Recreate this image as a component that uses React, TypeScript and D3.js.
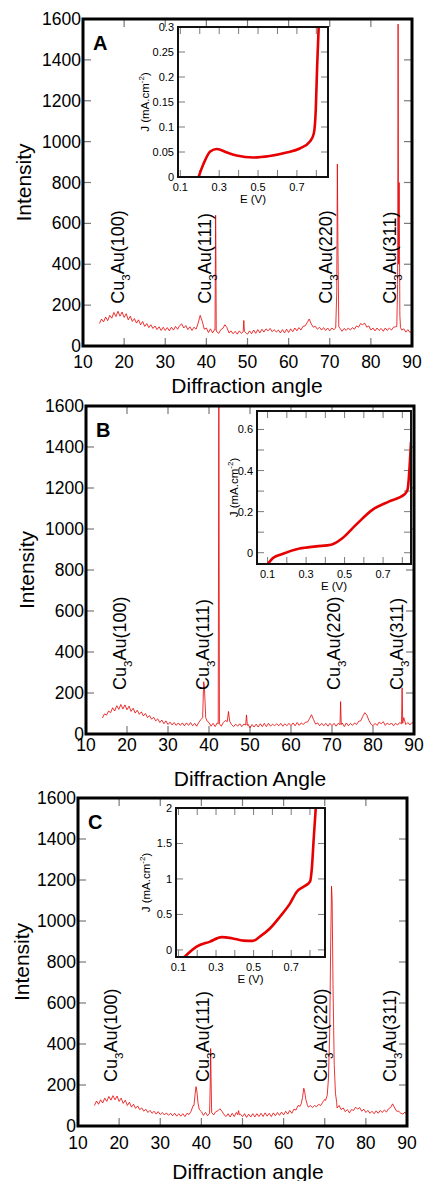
import * as d3 from 'd3';

// XRD scans: intensities every 0.5 degree from 14 to 90
const SCAN_START = 14;
const SCAN_STEP = 0.5;

const scanA = [
  110, 132, 118, 142, 124, 150, 136, 164, 144, 170,
  146, 166, 140, 158, 128, 146, 120, 134, 112, 128,
  104, 120, 96, 110, 90, 104, 86, 98, 80, 94,
  76, 92, 76, 90, 74, 92, 78, 96, 82, 100,
  108, 88, 100, 80, 94, 76, 92, 82, 112, 150,
  120, 82, 88, 66, 84, 64, 80, 70, 62, 80,
  86, 104, 90, 64, 74, 60, 72, 58, 74, 62,
  84, 66, 58, 74, 60, 78, 62, 80, 64, 82,
  68, 84, 74, 86, 70, 80, 68, 78, 64, 80,
  64, 82, 66, 84, 70, 88, 74, 90, 78, 96,
  98, 114, 132, 108, 92, 96, 82, 92, 78, 90,
  76, 88, 74, 88, 80, 84, 90, 86, 72, 86,
  76, 88, 78, 90, 82, 98, 92, 110, 104, 112,
  92, 98, 78, 88, 74, 88, 76, 86, 72, 88,
  76, 88, 78, 92, 94, 100, 96, 78, 84, 68,
  80, 66, 76,
];

const peaksA = [
  [[42.1, 78], [42.25, 640], [42.3, 520], [42.4, 80]],
  [[48.95, 70], [49.1, 125], [49.25, 72]],
  [[71.45, 88], [71.7, 260], [71.85, 890], [72.0, 480], [72.2, 95]],
  [[86.3, 95], [86.5, 300], [86.62, 1575], [86.75, 400], [86.88, 800], [87.05, 150], [87.2, 90]],
];

const scanB = [
  78, 98, 92, 112, 104, 128, 112, 138, 120, 144,
  122, 142, 118, 136, 110, 126, 102, 116, 96, 108,
  88, 100, 80, 90, 72, 82, 64, 74, 56, 68,
  50, 64, 46, 58, 44, 56, 42, 54, 42, 54,
  40, 54, 42, 56, 40, 52, 38, 56, 70, 90,
  95, 64, 56, 38, 52, 36, 54, 40, 38, 56,
  66, 94, 80, 46, 36, 48, 38, 50, 36, 48,
  62, 48, 30, 46, 34, 48, 34, 50, 36, 52,
  36, 52, 38, 48, 40, 50, 40, 52, 38, 50,
  40, 52, 40, 54, 40, 56, 42, 54, 46, 58,
  58, 74, 94, 70, 48, 54, 40, 52, 40, 52,
  38, 52, 40, 52, 38, 52, 44, 54, 36, 54,
  40, 52, 42, 54, 46, 62, 64, 86, 104, 92,
  66, 48, 40, 52, 42, 58, 50, 60, 42, 54,
  44, 54, 40, 52, 44, 56, 58, 80, 46, 56,
  44, 56, 48,
];

const peaksB = [
  [[38.45, 80], [38.7, 255], [38.85, 240], [39.2, 80]],
  [[42.25, 50], [42.4, 1700], [42.55, 50]],
  [[44.45, 60], [44.75, 110], [45.05, 62]],
  [[48.95, 44], [49.15, 93], [49.35, 42]],
  [[71.95, 46], [72.1, 158], [72.25, 46]],
  [[86.95, 50], [87.1, 225], [87.25, 52]],
];

const scanC = [
  100, 122, 106, 128, 112, 136, 120, 144, 126, 148,
  128, 146, 120, 136, 110, 126, 100, 116, 92, 106,
  86, 98, 80, 88, 72, 82, 66, 76, 62, 72,
  58, 70, 56, 66, 54, 64, 52, 62, 50, 62,
  48, 60, 48, 60, 46, 62, 56, 72, 100, 170,
  150, 90, 70, 52, 66, 50, 60, 62, 54, 70,
  74, 84, 72, 56, 46, 60, 44, 62, 46, 66,
  74, 58, 46, 60, 42, 58, 44, 60, 44, 60,
  46, 62, 46, 64, 48, 62, 46, 64, 50, 66,
  52, 68, 54, 72, 58, 76, 62, 82, 78, 100,
  96, 180, 160, 120, 92, 100, 90, 100, 94, 106,
  100, 116, 130, 200, 600, 400, 160, 104, 88, 100,
  80, 88, 70, 80, 64, 80, 76, 92, 82, 90,
  72, 82, 66, 76, 62, 72, 60, 74, 62, 76,
  66, 78, 68, 84, 90, 108, 88, 72, 72, 62,
  58, 68, 54,
];

const peaksC = [
  [[38.2, 100], [38.5, 160], [38.7, 192], [38.9, 170], [39.2, 110], [39.5, 80]],
  [[42.0, 62], [42.15, 200], [42.25, 378], [42.35, 250], [42.5, 66]],
  [[48.85, 55], [49.05, 75], [49.25, 55]],
  [[64.3, 110], [64.6, 140], [64.9, 184], [65.1, 170], [65.4, 130], [65.8, 100]],
  [[70.2, 125], [70.6, 150], [70.9, 230], [71.2, 450], [71.45, 900], [71.65, 1170], [71.8, 1100], [72.0, 700], [72.3, 300], [72.6, 160], [72.9, 115]],
];

const peakNames = ['(100)', '(111)', '(220)', '(311)'];
const labelAnglesA = [19.9, 41.2, 70.6, 86.2];
const labelAnglesB = [19.7, 40.1, 71.9, 87.4];
const labelAnglesC = [19.5, 41.9, 70.6, 87.4];
const labelBottom = [207, 215, 215];

const xTicks = d3.range(10, 91, 10);
const yTicks = d3.range(0, 1601, 200);

// J-E insets
const ivEA = [0.185, 0.22, 0.254, 0.288, 0.34, 0.39, 0.476, 0.56, 0.647, 0.715, 0.767, 0.787, 0.797, 0.804, 0.813];
const ivJA = [-0.01, 0.027, 0.051, 0.056, 0.049, 0.043, 0.039, 0.042, 0.049, 0.057, 0.071, 0.087, 0.134, 0.22, 0.31];
const ivEB = [0.1, 0.128, 0.18, 0.266, 0.352, 0.43, 0.49, 0.56, 0.646, 0.732, 0.81, 0.827, 0.845];
const ivJB = [-0.056, -0.026, -0.005, 0.02, 0.031, 0.039, 0.072, 0.137, 0.21, 0.25, 0.283, 0.307, 0.54];
const ivEC = [0.128, 0.197, 0.268, 0.33, 0.384, 0.446, 0.495, 0.535, 0.588, 0.641, 0.695, 0.73, 0.766, 0.8, 0.81, 0.82, 0.832];
const ivJC = [-0.11, 0.046, 0.117, 0.18, 0.165, 0.131, 0.127, 0.19, 0.305, 0.47, 0.66, 0.82, 0.89, 0.96, 1.15, 1.57, 2.05];

const FONT = "'Liberation Sans', Arial, sans-serif";
const RED = '#e60000';
const TICK = '#7a7a7a';

function mergeScan(base, peaks) {
  const ranges = peaks.map(p => [p[0][0], p[p.length - 1][0]]);
  const pts = [];
  base.forEach((v, i) => {
    const a = SCAN_START + i * SCAN_STEP;
    if (!ranges.some(([lo, hi]) => a >= lo && a <= hi)) pts.push([a, v]);
  });
  peaks.forEach(p => p.forEach(d => pts.push(d)));
  return pts.sort((p, q) => p[0] - q[0]);
}

const insets = [
  {
    box: { l: 178, t: 27, r: 328, b: 177 },
    xDomain: [0.088, 0.86], yDomain: [0, 0.3],
    yTicks: d3.range(0, 0.301, 0.05), yLabels: d3.range(0, 0.301, 0.05),
    E: ivEA, J: ivJA, ylabX: 145,
  },
  {
    box: { l: 257, t: 411, r: 411, b: 564 },
    xDomain: [0.045, 0.845], yDomain: [-0.055, 0.69],
    yTicks: d3.range(0, 0.61, 0.1), yLabels: [0, 0.2, 0.4, 0.6],
    E: ivEB, J: ivJB, ylabX: 234,
  },
  {
    box: { l: 176, t: 808, r: 325, b: 957 },
    xDomain: [0.087, 0.88], yDomain: [-0.1, 2],
    yTicks: [0, 0.5, 1, 1.5, 2], yLabels: [0, 0.5, 1, 1.5, 2],
    E: ivEC, J: ivJC, ylabX: 146,
  },
];

const panels = [
  { id: 'A', box: { l: 83, t: 19, r: 412, b: 346 }, scan: mergeScan(scanA, peaksA), labels: labelAnglesA, xlabDy: 16, title: 'Diffraction angle', titleX: 247, titleY: 385, ytitleX: 23 },
  { id: 'B', box: { l: 86, t: 406, r: 414, b: 734 }, scan: mergeScan(scanB, peaksB), labels: labelAnglesB, xlabDy: 11, title: 'Diffraction Angle', titleX: 250, titleY: 778, ytitleX: 26 },
  { id: 'C', box: { l: 78, t: 798, r: 407, b: 1126 }, scan: mergeScan(scanC, peaksC), labels: labelAnglesC, xlabDy: 17, title: 'Diffraction angle', titleX: 248, titleY: 1171, ytitleX: 21 },
];

function Inset({ spec, id }) {
  const { l, t, r, b } = spec.box;
  const x = d3.scaleLinear().domain(spec.xDomain).range([l, r]);
  const y = d3.scaleLinear().domain(spec.yDomain).range([b, t]);
  const line = d3.line().x(d => x(d[0])).y(d => y(d[1])).curve(d3.curveMonotoneX);
  const pts = spec.E.map((e, i) => [e, spec.J[i]]);
  const xt = d3.range(0.1, 0.81, 0.1);
  const fmt = v => String(+v.toFixed(2));
  return (
    <g fontFamily={FONT}>
      <defs>
        <clipPath id={`inset-${id}`}><rect x={l} y={t} width={r - l} height={b - t} /></clipPath>
      </defs>
      <rect x={l} y={t} width={r - l} height={b - t} fill="#fff" />
      {xt.map(v => (
        <g key={`xt${v}`}>
          <line x1={x(v)} x2={x(v)} y1={t} y2={t + 7} stroke={TICK} />
          <line x1={x(v)} x2={x(v)} y1={b} y2={b - 7} stroke={TICK} />
        </g>
      ))}
      {spec.yTicks.map(v => (
        <g key={`yt${v}`}>
          <line x1={l} x2={l + 7} y1={y(v)} y2={y(v)} stroke={TICK} />
          <line x1={r} x2={r - 7} y1={y(v)} y2={y(v)} stroke={TICK} />
        </g>
      ))}
      <path d={line(pts)} fill="none" stroke={RED} strokeWidth={2.6} clipPath={`url(#inset-${id})`} />
      <rect x={l} y={t} width={r - l} height={b - t} fill="none" stroke="#111" strokeWidth={2} />
      {spec.yLabels.map(v => (
        <text key={`yl${v}`} x={l - 4} y={y(v)} textAnchor="end" dominantBaseline="central" fontSize={11}>{fmt(v)}</text>
      ))}
      {[0.1, 0.3, 0.5, 0.7].map(v => (
        <text key={`xl${v}`} x={x(v)} y={b + 10} textAnchor="middle" dominantBaseline="central" fontSize={11}>{fmt(v)}</text>
      ))}
      <text x={(l + r) / 2} y={b + 22} textAnchor="middle" dominantBaseline="central" fontSize={11.5}>E (V)</text>
      <text transform={`translate(${spec.ylabX},${(t + b) / 2}) rotate(-90)`} textAnchor="middle" dominantBaseline="central" fontSize={11.5}>
        J (mA.cm<tspan dy={-4} fontSize={8}>-2</tspan><tspan dy={4}>)</tspan>
      </text>
    </g>
  );
}

function Panel({ p, idx }) {
  const { l, t, r, b } = p.box;
  const x = d3.scaleLinear().domain([10, 90]).range([l, r]);
  const y = d3.scaleLinear().domain([0, 1600]).range([b, t]);
  const line = d3.line().x(d => x(d[0])).y(d => y(d[1]));
  return (
    <g fontFamily={FONT}>
      <defs>
        <clipPath id={`plot-${p.id}`}><rect x={l} y={t} width={r - l} height={b - t} /></clipPath>
      </defs>
      {xTicks.slice(1, -1).map(v => (
        <g key={`x${v}`}>
          <line x1={x(v)} x2={x(v)} y1={b} y2={b - 8} stroke={TICK} strokeWidth={1.2} />
          <line x1={x(v)} x2={x(v)} y1={t} y2={t + 8} stroke={TICK} strokeWidth={1.2} />
        </g>
      ))}
      {yTicks.slice(1, -1).map(v => (
        <g key={`y${v}`}>
          <line x1={l} x2={l + 8} y1={y(v)} y2={y(v)} stroke={TICK} strokeWidth={1.2} />
          <line x1={r} x2={r - 8} y1={y(v)} y2={y(v)} stroke={TICK} strokeWidth={1.2} />
        </g>
      ))}
      <path d={line(p.scan)} fill="none" stroke={RED} strokeWidth={0.8} clipPath={`url(#plot-${p.id})`} />
      {p.labels.map((a, i) => (
        <text key={`lab${i}`} transform={`translate(${x(a)},${y(labelBottom[idx])}) rotate(-90)`} fontSize={18}>
          Cu<tspan dy={6} fontSize={11.5}>3</tspan><tspan dy={-6}>Au{peakNames[i]}</tspan>
        </text>
      ))}
      <Inset spec={insets[idx]} id={p.id} />
      <rect x={l} y={t} width={r - l} height={b - t} fill="none" stroke="#000" strokeWidth={3} />
      {yTicks.map(v => (
        <text key={`yl${v}`} x={l - 2} y={y(v)} textAnchor="end" dominantBaseline="central" fontSize={17.5}>{v}</text>
      ))}
      {xTicks.map(v => (
        <text key={`xl${v}`} x={x(v)} y={b + p.xlabDy} textAnchor="middle" dominantBaseline="central" fontSize={17.5}>{v}</text>
      ))}
      <text x={p.titleX} y={p.titleY} textAnchor="middle" dominantBaseline="central" fontSize={21}>{p.title}</text>
      <text transform={`translate(${p.ytitleX},${(t + b) / 2}) rotate(-90)`} textAnchor="middle" dominantBaseline="central" fontSize={21}>Intensity</text>
      <text x={l + 10} y={t + 31} fontSize={20} fontWeight="bold">{p.id}</text>
    </g>
  );
}

export default function App() {
  return (
    <svg width={424} height={1181} style={{ position: 'absolute', left: 0, top: 0, background: '#fff' }}>
      {panels.map((p, i) => <Panel key={p.id} p={p} idx={i} />)}
    </svg>
  );
}
